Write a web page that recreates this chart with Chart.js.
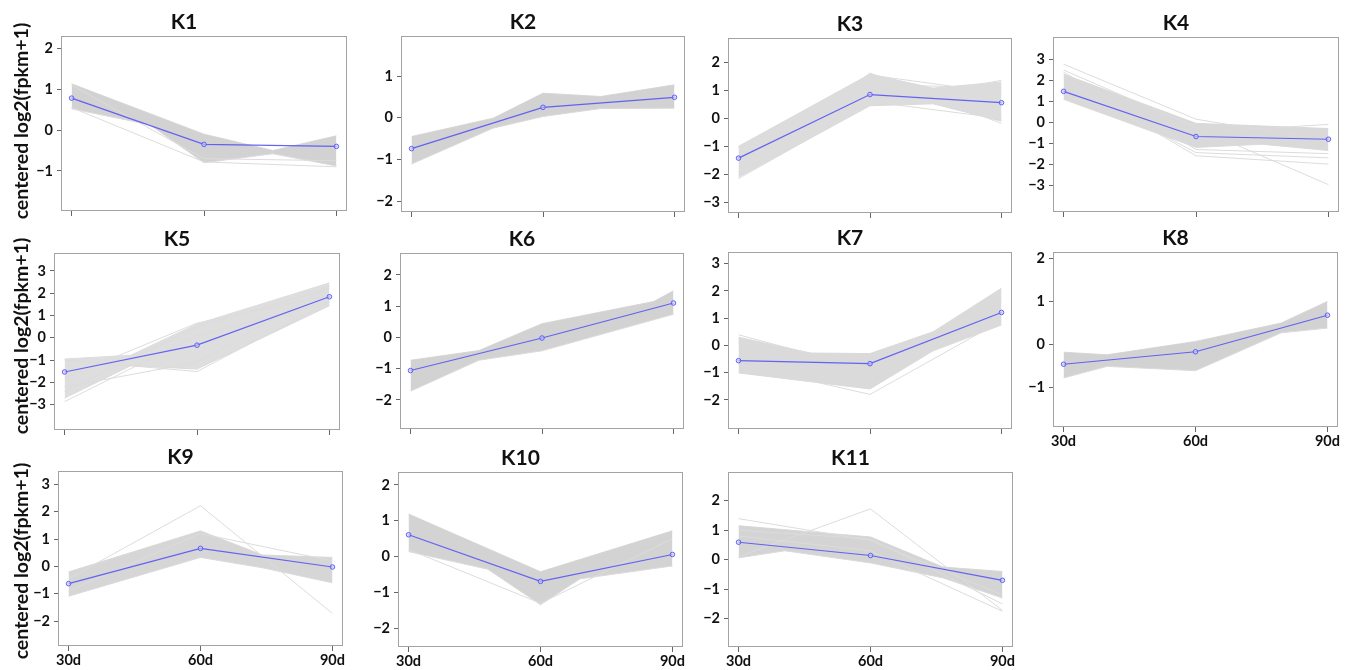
<!DOCTYPE html>
<html>
<head>
<meta charset="utf-8">
<script src="https://cdn.jsdelivr.net/npm/chart.js@4.4.1/dist/chart.umd.min.js"></script>
<style>
  body { margin: 0; background: #fff; width: 1351px; height: 670px; overflow: hidden; position: relative; }
  canvas { position: absolute; }
  .ytitle {
    position: absolute; width: 240px; height: 22px; line-height: 22px;
    text-align: center; font: bold 19.5px Lato, "Liberation Sans", sans-serif; color: #111;
    transform: rotate(-90deg); transform-origin: 50% 50%;
  }
</style>
</head>
<body>
<script>
/* clusters of centered expression profiles */

const timeLabels = ['30d', '60d', '90d'];
const clusterNames = ['K1', 'K2', 'K3', 'K4', 'K5', 'K6', 'K7', 'K8', 'K9', 'K10', 'K11'];
const yTitle = 'centered log2(fpkm+1)';

// blue mean profile of each cluster
const meanK1 = [0.78, -0.35, -0.40];
const meanK2 = [-0.74, 0.25, 0.49];
const meanK3 = [-1.42, 0.85, 0.56];
const meanK4 = [1.48, -0.68, -0.81];
const meanK5 = [-1.53, -0.33, 1.84];
const meanK6 = [-1.06, -0.02, 1.10];
const meanK7 = [-0.56, -0.67, 1.21];
const meanK8 = [-0.47, -0.18, 0.67];
const meanK9 = [-0.63, 0.66, -0.02];
const meanK10 = [0.61, -0.69, 0.06];
const meanK11 = [0.59, 0.14, -0.70];
const means = [meanK1, meanK2, meanK3, meanK4, meanK5, meanK6, meanK7, meanK8, meanK9, meanK10, meanK11];

// upper / lower edge of the grey band of member genes, [time position, value]
const bandUpper = [
  [[0, 1.13], [1, -0.10], [1.52, -0.50], [2, -0.14]],
  [[0, -0.45], [0.62, -0.01], [1, 0.59], [1.44, 0.51], [2, 0.79]],
  [[0, -1.00], [1, 1.58], [1.48, 1.08], [2, 1.30]],
  [[0, 2.30], [1, -0.05], [2, -0.30]],
  [[0, -0.95], [0.5, -0.78], [1, 0.62], [2, 2.46]],
  [[0, -0.73], [0.52, -0.42], [1, 0.44], [1.85, 1.15], [2, 1.49]],
  [[0, 0.30], [0.55, -0.28], [1, -0.30], [1.48, 0.50], [2, 2.10]],
  [[0, -0.19], [0.33, -0.25], [1, 0.06], [1.65, 0.49], [2, 0.99]],
  [[0, -0.20], [1, 1.30], [1.47, 0.42], [2, 0.33]],
  [[0, 1.19], [1, -0.42], [2, 0.72]],
  [[0, 1.15], [1, 0.77], [1.55, -0.25], [2, -0.40]]
];
const bandLower = [
  [[0, 0.52], [0.59, 0.13], [1, -0.80], [1.52, -0.58], [2, -0.88]],
  [[0, -1.11], [0.62, -0.25], [1, 0.03], [1.44, 0.22], [2, 0.23]],
  [[0, -2.10], [1, 0.45], [1.48, 0.52], [2, -0.10]],
  [[0, 1.10], [1, -1.20], [1.5, -1.05], [2, -1.35]],
  [[0, -2.70], [0.5, -1.25], [1, -1.40], [2, 1.44]],
  [[0, -1.72], [0.52, -0.73], [1, -0.43], [2, 0.74]],
  [[0, -1.01], [1, -1.60], [1.48, -0.20], [2, 0.75]],
  [[0, -0.79], [0.33, -0.52], [1, -0.62], [1.65, 0.26], [2, 0.37]],
  [[0, -1.09], [1, 0.33], [1.47, -0.05], [2, -0.60]],
  [[0, 0.14], [0.6, -0.35], [1, -1.34], [1.3, -0.62], [2, -0.26]],
  [[0, 0.06], [0.35, 0.30], [1, -0.11], [1.55, -0.62], [2, -1.30]]
];

// single genes that stray outside the band
const strayLines = [
  [[0.55, -0.78, -0.90], [1.10, -0.70, -0.75]],
  [],
  [[-2.15, 0.50, 1.36], [-1.90, 1.62, -0.18], [-1.05, 1.55, 0.90], [-2.00, 0.60, 0.00], [-1.60, 1.20, 1.10]],
  [[2.78, 0.15, -0.90], [2.50, -0.25, -2.98], [2.10, -1.60, -2.00], [1.90, -1.45, -1.70], [1.30, -0.50, -0.10], [2.40, -1.30, -1.50]],
  [[-2.86, 0.10, 1.60], [-2.40, 0.50, 2.20], [-1.00, -1.51, 1.60], [-2.20, -1.10, 2.30], [-1.80, 0.66, 1.90]],
  [],
  [[0.39, -0.90, 1.00], [-0.70, -1.80, 0.90], [0.20, -1.50, 2.00], [0.10, -1.20, 1.70]],
  [],
  [[-0.45, 2.22, -1.72], [-0.90, 1.20, 0.20]],
  [[0.20, -1.30, 0.50]],
  [[1.39, 0.65, -1.20], [0.10, 1.72, -1.72], [0.80, 0.30, -1.75], [1.00, 0.70, -1.50]]
];

// y axis range and labelled ticks per panel
const yRanges = [[-1.98, 2.30], [-2.26, 1.96], [-3.38, 2.87], [-4.29, 4.08], [-4.13, 3.80], [-2.93, 2.70],
                 [-3.07, 3.43], [-1.93, 2.14], [-2.91, 3.49], [-2.52, 2.36], [-2.96, 2.97]];
const yTicks = [[-1, 0, 1, 2], [-2, -1, 0, 1], [-3, -2, -1, 0, 1, 2], [-3, -2, -1, 0, 1, 2, 3],
                [-3, -2, -1, 0, 1, 2, 3], [-2, -1, 0, 1, 2], [-2, -1, 0, 1, 2, 3], [-1, 0, 1, 2],
                [-2, -1, 0, 1, 2, 3], [-2, -1, 0, 1, 2], [-2, -1, 0, 1, 2]];

// plot boxes on the page: left, top, right, bottom
const boxes = [
  [61, 36, 347, 211], [401, 36, 685, 212], [728, 38, 1012, 213], [1053, 37, 1339, 212],
  [54, 253, 340, 430], [400, 253, 684, 429], [728, 252, 1012, 429], [1053, 252, 1338, 427],
  [58, 471, 343, 646], [398, 472, 683, 647], [728, 472, 1013, 647]
];
const showXLabels = [false, false, false, false, false, false, false, true, true, true, true];
// band shade: spread clusters look lighter
const bandShade = ['#d2d2d2', '#d2d2d2', '#dcdcdc', '#d9d9d9', '#dedede', '#d2d2d2',
                   '#dadada', '#d2d2d2', '#d6d6d6', '#d3d3d3', '#d4d4d4'];

const FONT = 'Lato, "Liberation Sans", sans-serif';
const AXIS_W = 40;
const TITLE_H = 36;
const XAXIS_H = 28;
const PAD_R = 12;

const boxPlugin = {
  id: 'box',
  beforeDatasetsDraw(chart) {
    const a = chart.chartArea;
    const ctx = chart.ctx;
    ctx.save();
    ctx.strokeStyle = '#a3a3a3';
    ctx.lineWidth = 1;
    ctx.strokeRect(a.left + 0.5, a.top + 0.5, a.right - a.left - 1, a.bottom - a.top - 1);
    ctx.restore();
  }
};

function toPoints(values) {
  return values.map((v, i) => ({ x: i, y: v }));
}

function makePanel(i) {
  const [L, T, R, B] = boxes[i];
  const canvas = document.createElement('canvas');
  canvas.width = (R - L) + AXIS_W + PAD_R;
  canvas.height = (B - T) + TITLE_H + XAXIS_H;
  canvas.style.left = (L - AXIS_W) + 'px';
  canvas.style.top = (T - TITLE_H) + 'px';
  document.body.appendChild(canvas);

  const datasets = [];
  datasets.push({
    data: bandUpper[i].map(p => ({ x: p[0], y: p[1] })),
    borderColor: '#dadada', borderWidth: 1, pointRadius: 0, fill: false, tension: 0, order: 3
  });
  datasets.push({
    data: bandLower[i].map(p => ({ x: p[0], y: p[1] })),
    borderColor: '#dadada', borderWidth: 1, pointRadius: 0, tension: 0, order: 2,
    fill: { target: 0 }, backgroundColor: bandShade[i]
  });
  strayLines[i].forEach(line => {
    datasets.push({
      data: toPoints(line),
      borderColor: '#dcdcdc', borderWidth: 1, pointRadius: 0, fill: false, tension: 0, order: 1
    });
  });
  datasets.push({
    data: toPoints(means[i]),
    borderColor: 'rgba(85,85,245,0.9)', borderWidth: 1.2, order: 0,
    pointRadius: 2.3, pointBorderWidth: 1, pointStyle: 'circle',
    pointBorderColor: 'rgba(85,85,245,0.9)', pointBackgroundColor: 'rgba(200,200,255,0.6)',
    fill: false, tension: 0
  });

  new Chart(canvas.getContext('2d'), {
    type: 'line',
    data: { datasets: datasets },
    plugins: [boxPlugin],
    options: {
      responsive: false,
      animation: false,
      devicePixelRatio: 1,
      layout: { padding: { left: 0, right: PAD_R, top: 0, bottom: 0 } },
      plugins: {
        legend: { display: false },
        tooltip: { enabled: false },
        title: {
          display: true, text: clusterNames[i], color: '#111',
          font: { family: FONT, size: 21, weight: 'bold', lineHeight: 1.2 },
          padding: { top: 10, bottom: 0.8 }
        }
      },
      scales: {
        x: {
          type: 'linear', min: -0.08, max: 2.08,
          afterBuildTicks: s => { s.ticks = [0, 1, 2].map(v => ({ value: v })); },
          afterFit: s => { s.height = XAXIS_H; },
          grid: { drawOnChartArea: false, drawTicks: true, tickLength: 5, color: '#666' },
          border: { display: false },
          ticks: {
            padding: 1, color: '#111', maxRotation: 0,
            font: { family: FONT, size: 14.5, weight: 'bold' },
            callback: v => showXLabels[i] ? timeLabels[v] : ''
          }
        },
        y: {
          type: 'linear', min: yRanges[i][0], max: yRanges[i][1],
          afterBuildTicks: s => { s.ticks = yTicks[i].map(v => ({ value: v })); },
          afterFit: s => { s.width = AXIS_W; },
          grid: { drawOnChartArea: false, drawTicks: true, tickLength: 4, color: '#666' },
          border: { display: false },
          ticks: {
            padding: 4, color: '#111',
            font: { family: FONT, size: 14.5, weight: 'bold' },
            callback: v => (v < 0 ? '\u2212' + Math.abs(v) : String(v))
          }
        }
      }
    }
  });
}

for (let i = 0; i < clusterNames.length; i++) {
  makePanel(i);
}

// y axis titles of the three rows
const yTitleCenters = [121, 336, 561];
yTitleCenters.forEach(cy => {
  const d = document.createElement('div');
  d.className = 'ytitle';
  d.textContent = yTitle;
  d.style.left = (20 - 120) + 'px';
  d.style.top = (cy - 11) + 'px';
  document.body.appendChild(d);
});
</script>
</body>
</html>
